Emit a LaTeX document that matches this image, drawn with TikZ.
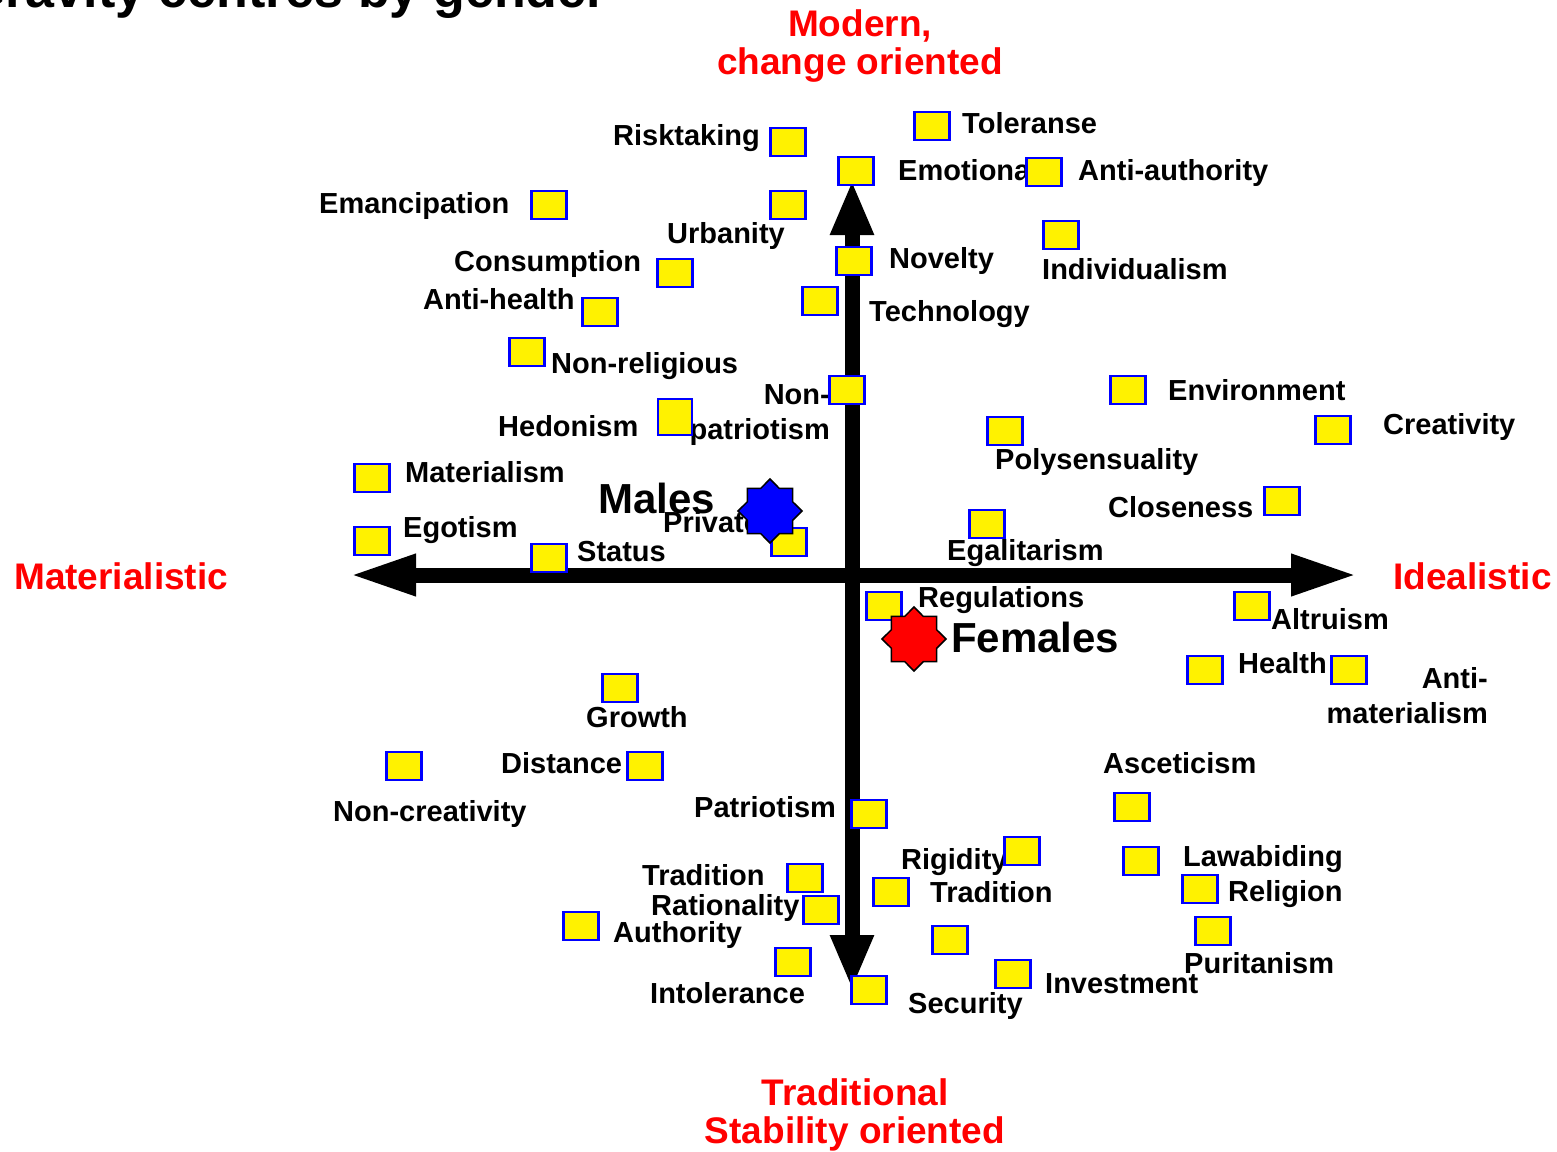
\documentclass[tikz,border=0pt]{standalone}
\usepackage{fontspec}
\setmainfont{Liberation Sans}
\usetikzlibrary{arrows.meta,shapes.geometric}
\begin{document}
\begin{tikzpicture}[x=1pt,y=-1pt,
  lbl/.style={inner sep=0pt, anchor=base west, font=\fontsize{29}{35}\selectfont\bfseries},
  lblr/.style={lbl, anchor=base east, align=right},
  big/.style={inner sep=0pt, anchor=base west, font=\fontsize{42}{48}\selectfont\bfseries},
  pole/.style={inner sep=0pt, text=red, font=\fontsize{37}{38}\selectfont\bfseries},
  poleblock/.style={pole, align=center, anchor=base},
  item/.style={draw=blue, fill=yellow, line width=2.4pt, minimum width=35pt, minimum height=28pt, inner sep=0pt},
  haxis/.style={line width=15pt, {Triangle[length=67pt,width=38pt]}-{Triangle[length=67pt,width=38pt]}},
  vaxis/.style={line width=15pt, {Triangle[length=55pt,width=40pt]}-{Triangle[length=55pt,width=40pt]}},
  centre/.style={star, star points=8, star point ratio=1.31, minimum size=64pt, inner sep=0pt, draw=black, line width=1.5pt}
]
\useasboundingbox (0,0) rectangle (1557,1151);
\clip (0,0) rectangle (1557,1151);

% heading, partly above the page edge
\node[inner sep=0pt, anchor=base east, font=\fontsize{52}{60}\selectfont\bfseries] (title) at (607,7) {Gravity centres by gender};

% axes
\coordinate (left) at (349,575);
\coordinate (right) at (1358,575);
\coordinate (top) at (852,180);
\coordinate (bottom) at (852,990);
\draw[haxis] (left) -- (right);
\draw[vaxis] (top) -- (bottom);

% poles (base anchor sits on the last line)
\node[poleblock] (modern) at (860,74) {Modern,\\change oriented};
\node[poleblock] (traditional) at (855,1143) {Traditional\\Stability oriented};
\node[pole, anchor=base west] (materialistic) at (14,589) {Materialistic};
\node[pole, anchor=base west] (idealistic) at (1393,589) {Idealistic};

% value labels
\node[lbl] (risktaking) at (613,145) {Risktaking};
\node[lbl] (toleranse) at (962,133) {Toleranse};
\node[lbl] (emotional) at (898,180) {Emotional};
\node[lbl] (antiauthority) at (1078,180) {Anti-authority};
\node[lbl] (emancipation) at (319,213) {Emancipation};
\node[lbl] (urbanity) at (667,243) {Urbanity};
\node[lbl] (consumption) at (454,271) {Consumption};
\node[lbl] (novelty) at (889,268) {Novelty};
\node[lbl] (individualism) at (1042,279) {Individualism};
\node[lbl] (antihealth) at (423,309) {Anti-health};
\node[lbl] (technology) at (869,321) {Technology};
\node[lbl] (nonreligious) at (551,373) {Non-religious};
\node[lblr] (nonpatriotism) at (830,439) {Non-\\patriotism};
\node[lbl] (environment) at (1168,400) {Environment};
\node[lbl] (hedonism) at (498,436) {Hedonism};
\node[lbl] (creativity) at (1383,434) {Creativity};
\node[lbl] (polysensuality) at (995,469) {Polysensuality};
\node[lbl] (materialism) at (405,482) {Materialism};
\node[lbl] (closeness) at (1108,517) {Closeness};
\node[big] (males) at (598,513) {Males};
\node[lbl] (private) at (663,532) {Private};
\node[lbl] (egotism) at (403,537) {Egotism};
\node[lbl] (egalitarism) at (947,560) {Egalitarism};
\node[lbl] (status) at (577,561) {Status};
\node[lbl] (regulations) at (918,607) {Regulations};
\node[lbl] (altruism) at (1271,629) {Altruism};
\node[big] (females) at (951,652) {Females};
\node[lbl] (health) at (1238,673) {Health};
\node[lblr] (antimaterialism) at (1488,723) {Anti-\\materialism};
\node[lbl] (growth) at (586,727) {Growth};
\node[lbl] (distance) at (501,773) {Distance};
\node[lbl] (asceticism) at (1103,773) {Asceticism};
\node[lbl] (noncreativity) at (333,821) {Non-creativity};
\node[lbl] (patriotism) at (694,817) {Patriotism};
\node[lbl] (rigidity) at (901,869) {Rigidity};
\node[lbl] (lawabiding) at (1183,866) {Lawabiding};
\node[lbl] (traditionA) at (642,885) {Tradition};
\node[lbl] (traditionB) at (930,902) {Tradition};
\node[lbl] (religion) at (1228,901) {Religion};
\node[lbl] (rationality) at (651,915) {Rationality};
\node[lbl] (authority) at (613,942) {Authority};
\node[lbl] (puritanism) at (1184,973) {Puritanism};
\node[lbl] (investment) at (1045,993) {Investment};
\node[lbl] (intolerance) at (650,1003) {Intolerance};
\node[lbl] (security) at (908,1013) {Security};

% value markers
\node[item] (bRisktaking) at (788,142) {};
\node[item] (bToleranse) at (932,126) {};
\node[item] (bEmotional) at (856,171) {};
\node[item] (bAntiauthority) at (1044,172) {};
\node[item] (bEmancipation) at (549,205) {};
\node[item] (bUrbanity) at (788,205) {};
\node[item] (bIndividualism) at (1061,235) {};
\node[item] (bNovelty) at (854,261) {};
\node[item] (bConsumption) at (675,273) {};
\node[item] (bTechnology) at (820,301) {};
\node[item] (bAntihealth) at (600,312) {};
\node[item] (bNonreligious) at (527,352) {};
\node[item] (bNonpatriotism) at (847,390) {};
\node[item, minimum width=34pt, minimum height=36pt] (bHedonism) at (675,417) {};
\node[item] (bEnvironment) at (1128,390) {};
\node[item] (bPolysensuality) at (1005,431) {};
\node[item] (bCreativity) at (1333,430) {};
\node[item] (bMaterialism) at (372,478) {};
\node[item] (bCloseness) at (1282,501) {};
\node[item] (bEgalitarism) at (987,524) {};
\node[item] (bPrivate) at (789,542) {};
\node[item] (bEgotism) at (372,541) {};
\node[item] (bStatus) at (549,558) {};
\node[item] (bRegulations) at (884,606) {};
\node[item] (bAltruism) at (1252,606) {};
\node[item] (bHealth) at (1205,670) {};
\node[item] (bAntimaterialism) at (1349,670) {};
\node[item] (bGrowth) at (620,688) {};
\node[item] (bNoncreativity) at (404,766) {};
\node[item] (bDistance) at (645,766) {};
\node[item] (bPatriotism) at (869,814) {};
\node[item] (bAsceticism) at (1132,807) {};
\node[item] (bRigidity) at (1022,851) {};
\node[item] (bLawabiding) at (1141,861) {};
\node[item] (bTraditionA) at (805,878) {};
\node[item] (bTraditionB) at (891,892) {};
\node[item] (bReligion) at (1200,889) {};
\node[item] (bRationality) at (821,910) {};
\node[item] (bAuthority) at (581,926) {};
\node[item] (bPuritanism) at (1213,931) {};
\node[item] (bSecurityA) at (950,940) {};
\node[item] (bIntolerance) at (793,962) {};
\node[item] (bInvestment) at (1013,974) {};
\node[item] (bSecurity) at (869,990) {};

% gender gravity centres
\node[centre, fill=blue] (malesStar) at (770,511) {};
\node[centre, fill=red] (femalesStar) at (914,639) {};
\end{tikzpicture}
\end{document}
